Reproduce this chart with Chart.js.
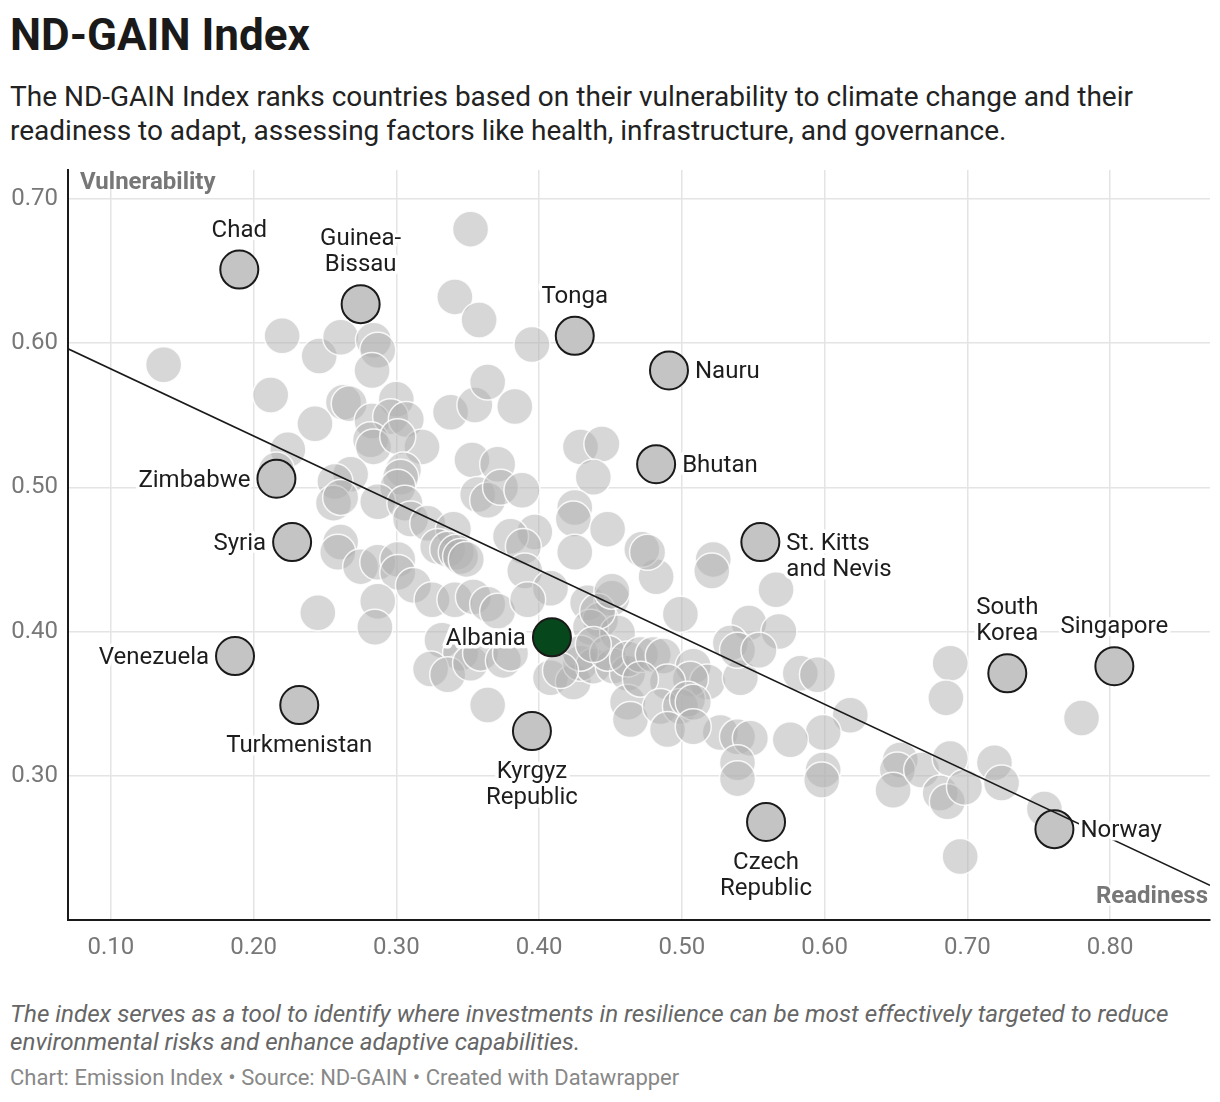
<!DOCTYPE html>
<html>
<head>
<meta charset="utf-8">
<title>ND-GAIN Index</title>
<script src="https://cdn.jsdelivr.net/npm/chart.js@4.4.1/dist/chart.umd.min.js"></script>
<style>
  body { margin: 0; background: #fff; font-family: Roboto, sans-serif; }
  #page { position: relative; width: 1220px; height: 1102px; overflow: hidden; }
  h1 { position: absolute; left: 10px; top: 13px; margin: 0; font-size: 44px; line-height: 44px; font-weight: 700; color: #1a1a1a; }
  .sub { position: absolute; left: 10px; top: 80px; margin: 0; font-size: 28px; line-height: 34px; color: #222; }
  .note { position: absolute; left: 10px; top: 1000px; margin: 0; font-size: 24.2px; line-height: 28px; font-style: italic; color: #666; }
  .credit { position: absolute; left: 10px; top: 1067px; margin: 0; font-size: 22px; line-height: 22px; color: #888; }
  #chart { position: absolute; left: 0; top: 160px; }
</style>
</head>
<body>
<div id="page">
  <h1>ND-GAIN Index</h1>
  <p class="sub">The ND-GAIN Index ranks countries based on their vulnerability to climate change and their<br>readiness to adapt, assessing factors like health, infrastructure, and governance.</p>
  <canvas id="chart" width="1220" height="820"></canvas>
  <p class="note">The index serves as a tool to identify where investments in resilience can be most effectively targeted to reduce<br>environmental risks and enhance adaptive capabilities.</p>
  <p class="credit">Chart: Emission Index • Source: ND-GAIN • Created with Datawrapper</p>
</div>
<script>
// readiness (x) / vulnerability (y)
const labelNames = ['Chad', 'Guinea-\nBissau', 'Tonga', 'Nauru', 'Bhutan', 'St. Kitts\nand Nevis', 'Zimbabwe', 'Syria',
  'Venezuela', 'Turkmenistan', 'Albania', 'Kyrgyz\nRepublic', 'Czech\nRepublic', 'South\nKorea', 'Singapore', 'Norway']
const labelX = [0.190, 0.275, 0.425, 0.491, 0.482, 0.555, 0.216, 0.227, 0.187, 0.232, 0.409, 0.395, 0.559, 0.728, 0.803, 0.761]
const labelY = [0.651, 0.627, 0.605, 0.581, 0.516, 0.462, 0.506, 0.462, 0.383, 0.349, 0.396, 0.331, 0.268, 0.371, 0.376, 0.263]

const otherX = [0.352, 0.137, 0.220, 0.341, 0.358, 0.395, 0.246, 0.261, 0.284, 0.287, 0.283, 0.212, 0.263, 0.267, 0.300, 0.243,
  0.283, 0.296, 0.307, 0.338, 0.355, 0.364, 0.383, 0.224, 0.216, 0.282, 0.284, 0.318, 0.301, 0.305, 0.303, 0.301,
  0.268, 0.257, 0.256, 0.261, 0.287, 0.306, 0.310, 0.322, 0.340, 0.329, 0.336, 0.342, 0.345, 0.349, 0.353, 0.371,
  0.357, 0.364, 0.373, 0.388, 0.429, 0.444, 0.438, 0.425, 0.424, 0.448, 0.425, 0.397, 0.380, 0.389, 0.390, 0.408,
  0.261, 0.259, 0.275, 0.287, 0.301, 0.301, 0.312, 0.287, 0.325, 0.341, 0.354, 0.364, 0.371, 0.392, 0.245, 0.285,
  0.434, 0.451, 0.443, 0.436, 0.455, 0.441, 0.332, 0.345, 0.324, 0.336, 0.352, 0.359, 0.375, 0.380, 0.408, 0.424,
  0.429, 0.438, 0.452, 0.462, 0.462, 0.464, 0.364, 0.429, 0.448, 0.462, 0.471, 0.480, 0.487, 0.508, 0.518, 0.506,
  0.490, 0.471, 0.485, 0.499, 0.504, 0.508, 0.541, 0.527, 0.539, 0.548, 0.539, 0.539, 0.490, 0.508, 0.583, 0.595,
  0.618, 0.599, 0.599, 0.598, 0.576, 0.653, 0.651, 0.648, 0.668, 0.688, 0.685, 0.499, 0.566, 0.547, 0.568, 0.534,
  0.539, 0.554, 0.522, 0.521, 0.482, 0.472, 0.476, 0.451, 0.438, 0.688, 0.681, 0.686, 0.698, 0.719, 0.724, 0.754,
  0.695, 0.780, 0.415]
const otherY = [0.679, 0.585, 0.605, 0.632, 0.616, 0.599, 0.591, 0.604, 0.602, 0.595, 0.581, 0.564, 0.559, 0.558, 0.561, 0.544,
  0.546, 0.549, 0.547, 0.552, 0.557, 0.573, 0.556, 0.526, 0.512, 0.533, 0.528, 0.528, 0.535, 0.512, 0.507, 0.500,
  0.509, 0.504, 0.489, 0.493, 0.490, 0.489, 0.478, 0.475, 0.471, 0.459, 0.457, 0.455, 0.452, 0.450, 0.519, 0.516,
  0.495, 0.491, 0.500, 0.498, 0.528, 0.530, 0.507, 0.486, 0.478, 0.471, 0.455, 0.469, 0.466, 0.459, 0.442, 0.430,
  0.462, 0.455, 0.445, 0.448, 0.450, 0.441, 0.432, 0.421, 0.422, 0.422, 0.424, 0.419, 0.414, 0.422, 0.413, 0.403,
  0.420, 0.423, 0.408, 0.403, 0.399, 0.414, 0.394, 0.385, 0.374, 0.370, 0.378, 0.385, 0.380, 0.385, 0.368, 0.365,
  0.378, 0.376, 0.376, 0.371, 0.351, 0.339, 0.349, 0.385, 0.385, 0.381, 0.384, 0.384, 0.383, 0.376, 0.365, 0.367,
  0.365, 0.367, 0.348, 0.348, 0.353, 0.351, 0.368, 0.330, 0.327, 0.326, 0.309, 0.298, 0.332, 0.334, 0.371, 0.370,
  0.342, 0.330, 0.304, 0.297, 0.325, 0.311, 0.304, 0.290, 0.304, 0.378, 0.354, 0.412, 0.429, 0.406, 0.400, 0.392,
  0.387, 0.387, 0.450, 0.442, 0.438, 0.457, 0.455, 0.428, 0.391, 0.312, 0.288, 0.282, 0.292, 0.309, 0.295, 0.277,
  0.244, 0.340, 0.373]

// trend line ends
const trendX = [0.07, 0.87]
const trendY = [0.596, 0.224]

const xTicks = [0.1, 0.2, 0.3, 0.4, 0.5, 0.6, 0.7, 0.8]
const yTicks = [0.3, 0.4, 0.5, 0.6, 0.7]

// where each label sits relative to its dot
const labelSide = {
  'Chad': 'top', 'Guinea-\nBissau': 'top', 'Tonga': 'top', 'Nauru': 'right', 'Bhutan': 'right',
  'St. Kitts\nand Nevis': 'right', 'Zimbabwe': 'left', 'Syria': 'left', 'Venezuela': 'left',
  'Turkmenistan': 'bottom', 'Albania': 'left', 'Kyrgyz\nRepublic': 'bottom', 'Czech\nRepublic': 'bottom',
  'South\nKorea': 'top', 'Singapore': 'top', 'Norway': 'right'
}

const labelPlugin = {
  id: 'labels',
  afterDatasetsDraw(chart) {
    const { ctx, scales: { x, y }, chartArea } = chart
    ctx.save()
    ctx.font = '24px Roboto'
    ctx.lineJoin = 'round'
    ctx.textBaseline = 'middle'
    labelNames.forEach((name, i) => {
      const px = x.getPixelForValue(labelX[i])
      const py = y.getPixelForValue(labelY[i]) + 2
      const lines = name.split('\n')
      const side = labelSide[name]
      let tx = px, ty = py
      if (side === 'top') { ctx.textAlign = 'center'; ty = py - 41 - (lines.length - 1) * 26 }
      if (side === 'bottom') { ctx.textAlign = 'center'; ty = py + 39 }
      if (side === 'right') { ctx.textAlign = 'left'; tx = px + 26 }
      if (side === 'left') { ctx.textAlign = 'right'; tx = px - 26 }
      lines.forEach((line, j) => {
        ctx.strokeStyle = '#fff'
        ctx.lineWidth = 7
        ctx.strokeText(line, tx, ty + j * 26)
        ctx.fillStyle = '#1d1d1d'
        ctx.fillText(line, tx, ty + j * 26)
      })
    })
    // axis titles
    ctx.font = 'bold 24px Roboto'
    ctx.fillStyle = '#777'
    ctx.textAlign = 'left'
    ctx.fillText('Vulnerability', chartArea.left + 12, chartArea.top + 13)
    ctx.textAlign = 'right'
    ctx.strokeStyle = '#fff'
    ctx.lineWidth = 5
    ctx.strokeText('Readiness', chartArea.right - 2, chartArea.bottom - 23)
    ctx.fillText('Readiness', chartArea.right - 2, chartArea.bottom - 23)
    ctx.restore()
  }
}

// no extra room for first/last tick labels, the plot fills the box
const noPad = s => { s.paddingLeft = 0; s.paddingRight = 0; s.paddingTop = 0; s.paddingBottom = 0 }

const gridStyle = { color: '#e4e4e4', lineWidth: 1.5, drawTicks: false }
const tickFont = { family: 'Roboto', size: 24 }

new Chart(document.getElementById('chart'), {
  type: 'scatter',
  data: {
    datasets: [
      {
        label: 'trend',
        type: 'line',
        data: trendX.map((v, i) => ({ x: v, y: trendY[i] })),
        borderColor: '#1a1a1a',
        borderWidth: 1.6,
        pointRadius: 0,
        fill: false,
        order: 1
      },
      {
        label: 'labelled',
        data: labelX.map((v, i) => ({ x: v, y: labelY[i] })),
        backgroundColor: ctx => labelNames[ctx.dataIndex] === 'Albania' ? '#06481b' : '#c4c4c4',
        borderColor: '#1a1a1a',
        borderWidth: 2,
        pointRadius: 19,
        pointHoverRadius: 19,
        order: 2
      },
      {
        label: 'countries',
        data: otherX.map((v, i) => ({ x: v, y: otherY[i] })),
        backgroundColor: 'rgba(175,175,175,0.5)',
        borderColor: 'rgba(255,255,255,0.85)',
        borderWidth: 1.5,
        pointRadius: 18,
        pointHoverRadius: 18,
        order: 3
      }
    ]
  },
  options: {
    responsive: false,
    animation: false,
    events: [],
    layout: { autoPadding: false, padding: { left: 10, right: 10, top: 10, bottom: 10 } },
    plugins: { legend: { display: false }, tooltip: { enabled: false } },
    scales: {
      x: {
        type: 'linear',
        min: 0.07,
        max: 0.87,
        afterBuildTicks: s => { s.ticks = xTicks.map(v => ({ value: v })) },
        afterFit: s => { s.height = 50; noPad(s) },
        grid: gridStyle,
        border: { color: '#1a1a1a', width: 2 },
        ticks: { padding: 14, font: tickFont, color: '#777', callback: v => v.toFixed(2) }
      },
      y: {
        type: 'linear',
        min: 0.20,
        max: 0.72,
        afterBuildTicks: s => { s.ticks = yTicks.map(v => ({ value: v })) },
        afterFit: s => { s.width = 58; noPad(s) },
        grid: gridStyle,
        border: { color: '#1a1a1a', width: 2 },
        ticks: { padding: 10, font: tickFont, color: '#777', callback: v => v.toFixed(2) }
      }
    }
  },
  plugins: [labelPlugin]
})
</script>
</body>
</html>
